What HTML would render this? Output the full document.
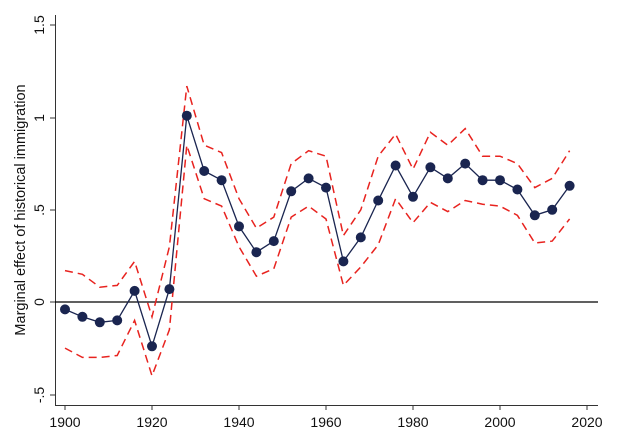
<!DOCTYPE html>
<html><head><meta charset="utf-8"><style>body{margin:0;background:#fff}svg{display:block}</style></head>
<body>
<svg id="s" width="620" height="442" xmlns="http://www.w3.org/2000/svg" font-family="Liberation Sans, sans-serif">
<rect width="620" height="442" fill="#fff"/>
<line x1="55.5" y1="15" x2="55.5" y2="405" stroke="#333" stroke-width="1"/>
<line x1="55" y1="405.5" x2="598" y2="405.5" stroke="#333" stroke-width="1"/>
<line x1="55" y1="302" x2="598" y2="302" stroke="#000" stroke-width="1.3"/>
<g stroke="#333">
<line x1="50" y1="25" x2="55" y2="25"/><line x1="50" y1="118" x2="55" y2="118"/><line x1="50" y1="210" x2="55" y2="210"/><line x1="50" y1="302" x2="55" y2="302"/><line x1="50" y1="395" x2="55" y2="395"/>
<line x1="65" y1="405" x2="65" y2="410"/><line x1="152" y1="405" x2="152" y2="410"/><line x1="239" y1="405" x2="239" y2="410"/><line x1="326" y1="405" x2="326" y2="410"/><line x1="413" y1="405" x2="413" y2="410"/><line x1="500" y1="405" x2="500" y2="410"/><line x1="587" y1="405" x2="587" y2="410"/>
</g>
<g font-size="14" fill="#111" text-anchor="middle">
<text x="65" y="427">1900</text><text x="152" y="427">1920</text><text x="239" y="427">1940</text><text x="326" y="427">1960</text><text x="413" y="427">1980</text><text x="500" y="427">2000</text><text x="587" y="427">2020</text>
<text transform="translate(44,25) rotate(-90)">1.5</text>
<text transform="translate(44,118) rotate(-90)">1</text>
<text transform="translate(44,210) rotate(-90)">.5</text>
<text transform="translate(44,302) rotate(-90)">0</text>
<text transform="translate(44,395) rotate(-90)">-.5</text>
<text transform="translate(25,210) rotate(-90)" font-size="14.5">Marginal effect of historical immigration</text>
</g>
<g id="d"></g>
</svg>
<script>
var m=[-.04,-.08,-.11,-.10,.06,-.24,.07,1.01,.71,.66,.41,.27,.33,.60,.67,.62,.22,.35,.55,.74,.57,.73,.67,.75,.66,.66,.61,.47,.50,.63];
var u=[.17,.15,.08,.09,.22,-.08,.30,1.17,.85,.81,.56,.40,.46,.75,.82,.79,.36,.50,.79,.91,.72,.92,.85,.94,.79,.79,.75,.62,.67,.82];
var l=[-.25,-.30,-.30,-.29,-.10,-.40,-.15,.85,.56,.52,.30,.14,.18,.46,.52,.45,.09,.19,.31,.56,.43,.54,.49,.55,.53,.52,.47,.32,.33,.45];
function X(i){return 65+i*4*4.35}function Y(v){return 302-v*184.5}
function pts(a){return a.map(function(v,i){return X(i).toFixed(1)+","+Y(v).toFixed(1)}).join(" ")}
var h='<polyline points="'+pts(u)+'" fill="none" stroke="#e8231f" stroke-width="1.5" stroke-dasharray="8,5"/>';
h+='<polyline points="'+pts(l)+'" fill="none" stroke="#e8231f" stroke-width="1.5" stroke-dasharray="8,5"/>';
h+='<polyline points="'+pts(m)+'" fill="none" stroke="#1a2550" stroke-width="1.3"/>';
m.forEach(function(v,i){h+='<circle cx="'+X(i).toFixed(1)+'" cy="'+Y(v).toFixed(1)+'" r="5" fill="#1a2550"/>'});
document.getElementById('d').innerHTML=h;
</script>
</body></html>
